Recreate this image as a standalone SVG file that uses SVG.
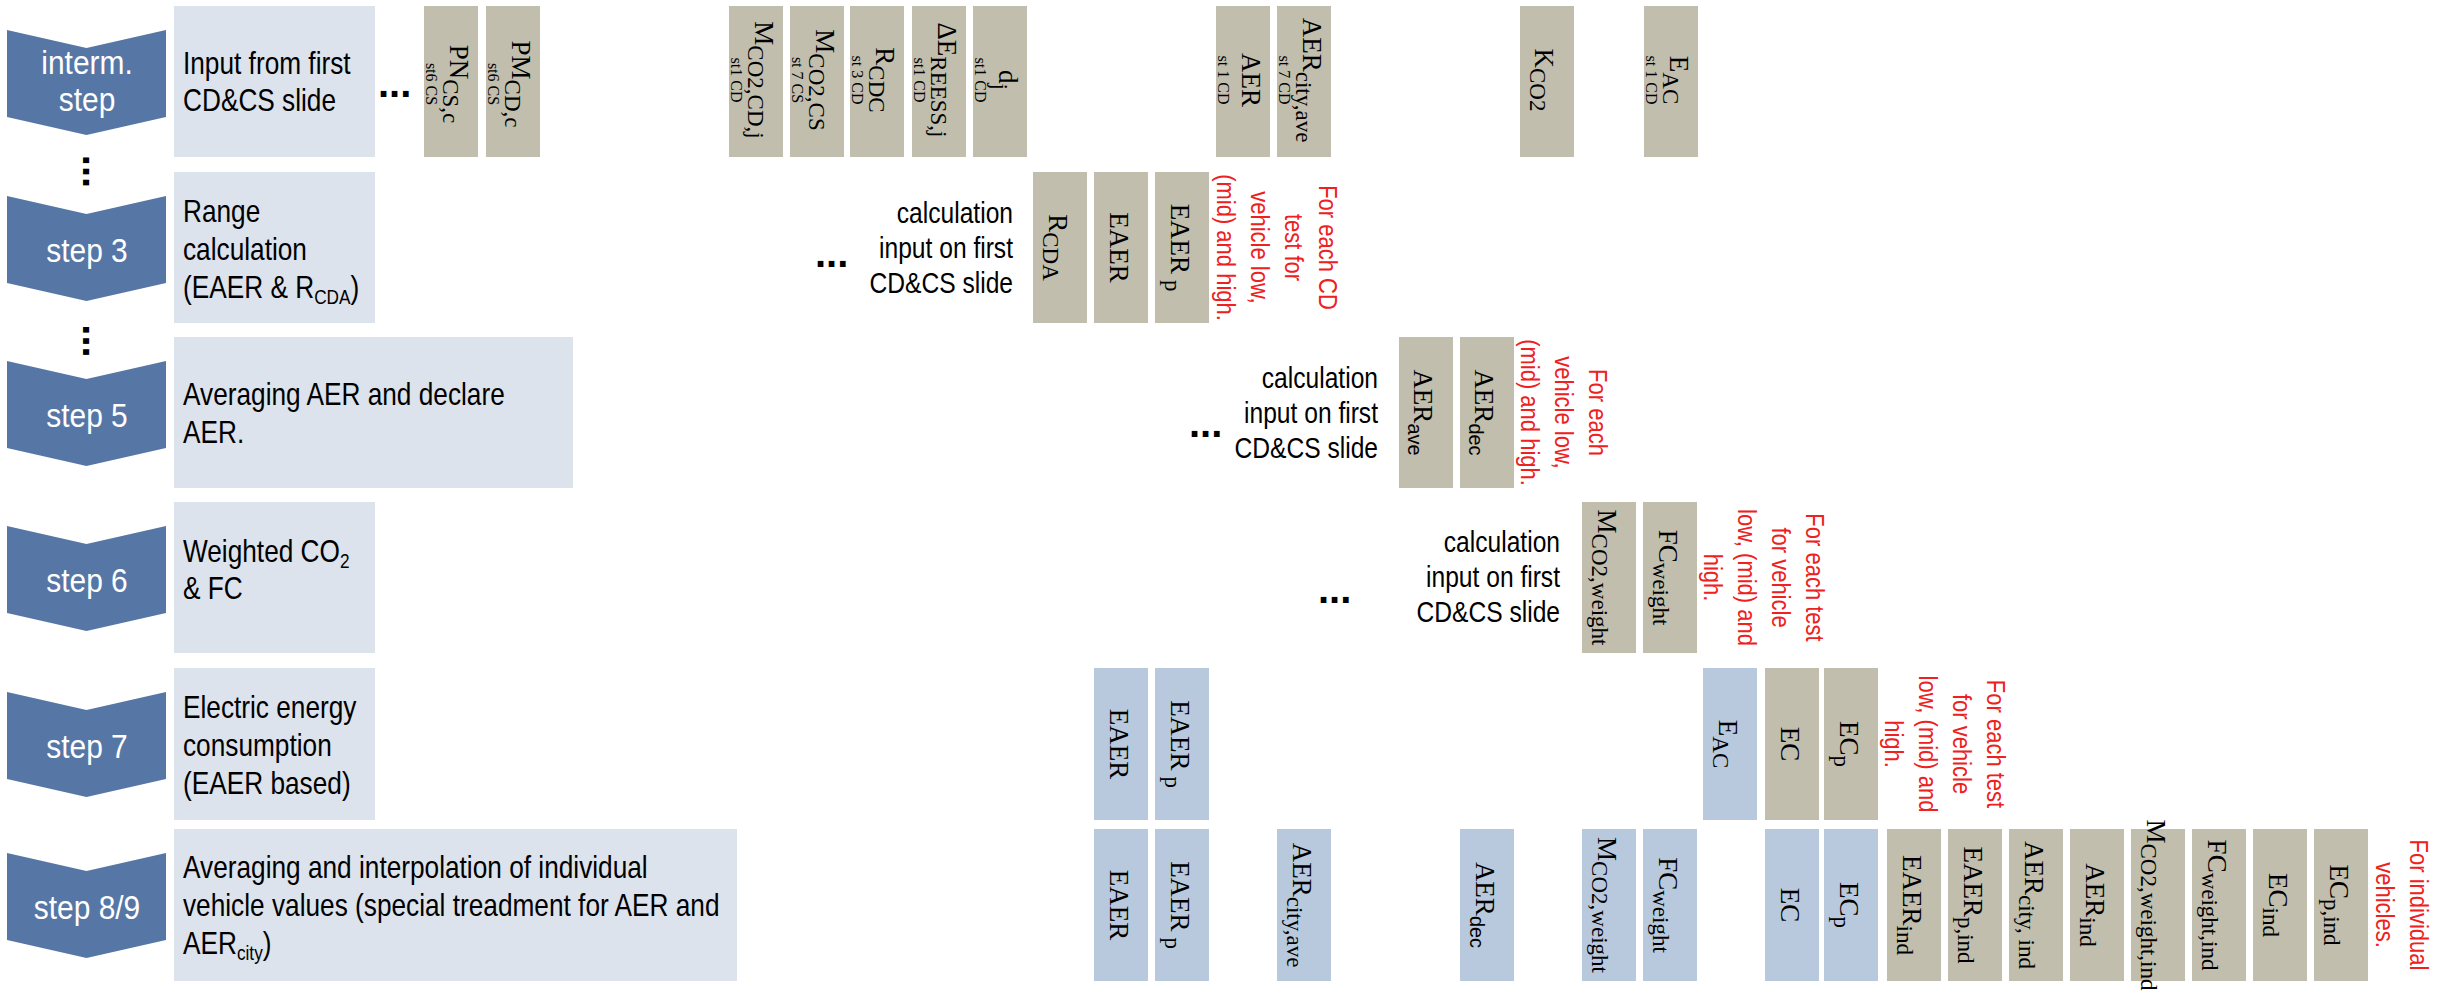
<svg xmlns="http://www.w3.org/2000/svg" xmlns:xlink="http://www.w3.org/1999/xlink" width="2443" height="992" viewBox="0 0 2443 992">
<style>
.chev{fill:#5677A6}
.lbox{fill:#DCE3ED}
.tan{fill:#C1BEAE}
.blu{fill:#B9C9DD}
.ct{font-family:'Liberation Sans',Arial,sans-serif;font-size:34px;fill:#fff;text-anchor:middle}
.lt{font-family:'Liberation Sans',Arial,sans-serif;font-size:32px;fill:#000}
.calc{font-family:'Liberation Sans',Arial,sans-serif;font-size:30px;fill:#000;text-anchor:end}
.dots{font-family:'Liberation Sans',Arial,sans-serif;font-size:40px;font-weight:bold;fill:#000}
.red{font-family:'Liberation Sans',Arial,sans-serif;font-size:26.5px;fill:#EE2020;text-anchor:middle}
.v{font-family:'Liberation Serif','Times New Roman',serif;font-size:27px;fill:#000;text-anchor:middle}
.sub{font-size:23px}
.sm{font-size:16px}
.ss{font-family:'Liberation Sans',Arial,sans-serif;font-size:20px}
.hs{font-size:21px}
</style>
<defs>
<path id="chevShape" d="M7,0 L86.5,18 L166,0 L166,87 L86.5,105 L7,87 Z"/>
</defs>

<!-- step column -->
<g id="step-interm"><use xlink:href="#chevShape" href="#chevShape" class="chev" y="30"/><text class="ct" transform="translate(87,0) scale(0.88,1)"><tspan x="0" y="74">interm.</tspan><tspan x="0" y="111">step</tspan></text></g>
<g id="step-3"><use xlink:href="#chevShape" href="#chevShape" class="chev" y="196"/><text class="ct" transform="translate(87,262) scale(0.88,1)">step 3</text></g>
<g id="step-5"><use xlink:href="#chevShape" href="#chevShape" class="chev" y="361"/><text class="ct" transform="translate(87,427) scale(0.88,1)">step 5</text></g>
<g id="step-6"><use xlink:href="#chevShape" href="#chevShape" class="chev" y="526"/><text class="ct" transform="translate(87,592) scale(0.88,1)">step 6</text></g>
<g id="step-7"><use xlink:href="#chevShape" href="#chevShape" class="chev" y="692"/><text class="ct" transform="translate(87,758) scale(0.88,1)">step 7</text></g>
<g id="step-8-9"><use xlink:href="#chevShape" href="#chevShape" class="chev" y="853"/><text class="ct" transform="translate(87,919) scale(0.88,1)">step 8/9</text></g>

<g id="vdots-1"><text class="dots" text-anchor="middle" transform="translate(83,171.5) rotate(90)">...</text></g>
<g id="vdots-2"><text class="dots" text-anchor="middle" transform="translate(83,341) rotate(90)">...</text></g>

<!-- description boxes -->
<g id="desc-interm"><rect class="lbox" x="174" y="6" width="201" height="151"/><text class="lt" transform="translate(183,74) scale(0.82,1)"><tspan x="0" y="0">Input from first</tspan><tspan x="0" y="37">CD&amp;CS slide</tspan></text></g>
<g id="desc-3"><rect class="lbox" x="174" y="172" width="201" height="151"/><text class="lt" transform="translate(183,222) scale(0.82,1)"><tspan x="0" y="0">Range</tspan><tspan x="0" y="38">calculation</tspan><tspan x="0" y="76">(EAER &amp; R<tspan class="hs" dy="6">CDA</tspan><tspan dy="-6">)</tspan></tspan></text></g>
<g id="desc-5"><rect class="lbox" x="174" y="337" width="399" height="151"/><text class="lt" transform="translate(183,405) scale(0.82,1)"><tspan x="0" y="0">Averaging AER and declare</tspan><tspan x="0" y="38">AER.</tspan></text></g>
<g id="desc-6"><rect class="lbox" x="174" y="502" width="201" height="151"/><text class="lt" transform="translate(183,562) scale(0.82,1)"><tspan x="0" y="0">Weighted CO<tspan class="hs" dy="6">2</tspan></tspan><tspan x="0" y="37">&amp; FC</tspan></text></g>
<g id="desc-7"><rect class="lbox" x="174" y="668" width="201" height="152"/><text class="lt" transform="translate(183,718) scale(0.82,1)"><tspan x="0" y="0">Electric energy</tspan><tspan x="0" y="38">consumption</tspan><tspan x="0" y="76">(EAER based)</tspan></text></g>
<g id="desc-8-9"><rect class="lbox" x="174" y="829" width="563" height="152"/><text class="lt" transform="translate(183,878) scale(0.82,1)"><tspan x="0" y="0">Averaging and interpolation of individual</tspan><tspan x="0" y="38">vehicle values (special treadment for AER and</tspan><tspan x="0" y="76">AER<tspan class="hs" dy="6">city</tspan><tspan dy="-6">)</tspan></tspan></text></g>

<!-- ellipses and calculation notes -->
<g id="dots-1"><text class="dots" x="378" y="97">...</text></g>
<g id="dots-3"><text class="dots" x="815" y="267">...</text></g>
<g id="dots-5"><text class="dots" x="1189" y="437">...</text></g>
<g id="dots-6"><text class="dots" x="1318" y="603">...</text></g>
<g id="calc-3"><text class="calc" transform="translate(1013,223) scale(0.82,1)"><tspan x="0" y="0">calculation</tspan><tspan x="0" y="35">input on first</tspan><tspan x="0" y="70">CD&amp;CS slide</tspan></text></g>
<g id="calc-5"><text class="calc" transform="translate(1378,388) scale(0.82,1)"><tspan x="0" y="0">calculation</tspan><tspan x="0" y="35">input on first</tspan><tspan x="0" y="70">CD&amp;CS slide</tspan></text></g>
<g id="calc-6"><text class="calc" transform="translate(1560,552) scale(0.82,1)"><tspan x="0" y="0">calculation</tspan><tspan x="0" y="35">input on first</tspan><tspan x="0" y="70">CD&amp;CS slide</tspan></text></g>

<!-- row 1 inputs -->
<g id="in-PN"><rect class="tan" x="424" y="6" width="54" height="151"/><text class="v" transform="translate(450,84) rotate(90)"><tspan x="0" y="0">PN<tspan class="sub" dy="7">CS,c</tspan></tspan><tspan class="sm" x="0" y="24">st6 CS</tspan></text></g>
<g id="in-PM"><rect class="tan" x="486" y="6" width="54" height="151"/><text class="v" transform="translate(512,84) rotate(90)"><tspan x="0" y="0">PM<tspan class="sub" dy="7">CD,c</tspan></tspan><tspan class="sm" x="0" y="24">st6 CS</tspan></text></g>
<g id="in-MCO2CDj"><rect class="tan" x="729" y="6" width="54" height="151"/><text class="v" transform="translate(755,80) rotate(90)"><tspan x="0" y="0">M<tspan class="sub" dy="7">CO2,CD,j</tspan></tspan><tspan class="sm" x="0" y="24">st1 CD</tspan></text></g>
<g id="in-MCO2CS"><rect class="tan" x="790" y="6" width="54" height="151"/><text class="v" transform="translate(816,80) rotate(90)"><tspan x="0" y="0">M<tspan class="sub" dy="7">CO2,CS</tspan></tspan><tspan class="sm" x="0" y="24">st 7 CS</tspan></text></g>
<g id="in-RCDC"><rect class="tan" x="850" y="6" width="54" height="151"/><text class="v" transform="translate(876,80) rotate(90)"><tspan x="0" y="0">R<tspan class="sub" dy="7">CDC</tspan></tspan><tspan class="sm" x="0" y="24">st 3 CD</tspan></text></g>
<g id="in-dEREESS"><rect class="tan" x="912" y="6" width="54" height="151"/><text class="v" transform="translate(938,80) rotate(90)"><tspan x="0" y="0">ΔE<tspan class="sub" dy="7">REESS,j</tspan></tspan><tspan class="sm" x="0" y="24">st1 CD</tspan></text></g>
<g id="in-dj"><rect class="tan" x="973" y="6" width="54" height="151"/><text class="v" transform="translate(999,80) rotate(90)"><tspan x="0" y="0">d<tspan class="sub" dy="7">j</tspan></tspan><tspan class="sm" x="0" y="24">st1 CD</tspan></text></g>
<g id="in-AER"><rect class="tan" x="1216" y="6" width="54" height="151"/><text class="v" transform="translate(1242,80) rotate(90)"><tspan x="0" y="0">AER</tspan><tspan class="sm" x="0" y="24">st 1 CD</tspan></text></g>
<g id="in-AERcity"><rect class="tan" x="1277" y="6" width="54" height="151"/><text class="v" transform="translate(1303,80) rotate(90)"><tspan x="0" y="0">AER<tspan class="sub" dy="7">city,ave</tspan></tspan><tspan class="sm" x="0" y="24">st 7 CD</tspan></text></g>
<g id="in-KCO2"><rect class="tan" x="1520" y="6" width="54" height="151"/><text class="v" transform="translate(1535,80) rotate(90)">K<tspan class="sub" dy="5">CO2</tspan></text></g>
<g id="in-EAC"><rect class="tan" x="1644" y="6" width="54" height="151"/><text class="v" transform="translate(1670,80) rotate(90)"><tspan x="0" y="0">E<tspan class="sub" dy="7">AC</tspan></tspan><tspan class="sm" x="0" y="24">st 1 CD</tspan></text></g>

<!-- row step 3 -->
<g id="s3-RCDA"><rect class="tan" x="1033" y="172" width="54" height="151"/><text class="v" transform="translate(1049,247.5) rotate(90)">R<tspan class="sub" dy="6">CDA</tspan></text></g>
<g id="s3-EAER"><rect class="tan" x="1094" y="172" width="54" height="151"/><text class="v" transform="translate(1110,247.5) rotate(90)">EAER</text></g>
<g id="s3-EAERp"><rect class="tan" x="1155" y="172" width="54" height="151"/><text class="v" transform="translate(1171,247.5) rotate(90)">EAER<tspan class="sub" dy="6"> p</tspan></text></g>
<g id="s3-note"><text class="red" transform="translate(1319,247.5) rotate(90) scale(0.83,1)"><tspan x="0" y="0">For each CD</tspan><tspan x="0" y="34">test for</tspan><tspan x="0" y="68">vehicle low,</tspan><tspan x="0" y="102">(mid) and high.</tspan></text></g>

<!-- row step 5 -->
<g id="s5-AERave"><rect class="tan" x="1399" y="337" width="54" height="151"/><text class="v" transform="translate(1414,412.5) rotate(90)">AER<tspan class="ss" dy="6">ave</tspan></text></g>
<g id="s5-AERdec"><rect class="tan" x="1460" y="337" width="54" height="151"/><text class="v" transform="translate(1475,412.5) rotate(90)">AER<tspan class="ss" dy="6">dec</tspan></text></g>
<g id="s5-note"><text class="red" transform="translate(1589,412.5) rotate(90) scale(0.83,1)"><tspan x="0" y="0">For each</tspan><tspan x="0" y="34">vehicle low,</tspan><tspan x="0" y="68">(mid) and high.</tspan></text></g>

<!-- row step 6 -->
<g id="s6-MCO2w"><rect class="tan" x="1582" y="502" width="54" height="151"/><text class="v" transform="translate(1598,577.5) rotate(90)">M<tspan class="sub" dy="6">CO2,weight</tspan></text></g>
<g id="s6-FCw"><rect class="tan" x="1643" y="502" width="54" height="151"/><text class="v" transform="translate(1659,577.5) rotate(90)">FC<tspan class="sub" dy="6">weight</tspan></text></g>
<g id="s6-note"><text class="red" transform="translate(1806,577.5) rotate(90) scale(0.83,1)"><tspan x="0" y="0">For each test</tspan><tspan x="0" y="34">for vehicle</tspan><tspan x="0" y="68">low, (mid) and</tspan><tspan x="0" y="102">high.</tspan></text></g>

<!-- row step 7 -->
<g id="s7-EAER"><rect class="blu" x="1094" y="668" width="54" height="152"/><text class="v" transform="translate(1110,744) rotate(90)">EAER</text></g>
<g id="s7-EAERp"><rect class="blu" x="1155" y="668" width="54" height="152"/><text class="v" transform="translate(1171,744) rotate(90)">EAER<tspan class="sub" dy="6"> p</tspan></text></g>
<g id="s7-EAC"><rect class="blu" x="1703" y="668" width="54" height="152"/><text class="v" transform="translate(1719,744) rotate(90)">E<tspan class="sub" dy="6">AC</tspan></text></g>
<g id="s7-EC"><rect class="tan" x="1765" y="668" width="54" height="152"/><text class="v" transform="translate(1781,744) rotate(90)">EC</text></g>
<g id="s7-ECp"><rect class="tan" x="1824" y="668" width="54" height="152"/><text class="v" transform="translate(1840,744) rotate(90)">EC<tspan class="sub" dy="6">p</tspan></text></g>
<g id="s7-note"><text class="red" transform="translate(1987,744) rotate(90) scale(0.83,1)"><tspan x="0" y="0">For each test</tspan><tspan x="0" y="34">for vehicle</tspan><tspan x="0" y="68">low, (mid) and</tspan><tspan x="0" y="102">high.</tspan></text></g>

<!-- row step 8/9 -->
<g id="s89-EAER"><rect class="blu" x="1094" y="829" width="54" height="152"/><text class="v" transform="translate(1110,905) rotate(90)">EAER</text></g>
<g id="s89-EAERp"><rect class="blu" x="1155" y="829" width="54" height="152"/><text class="v" transform="translate(1171,905) rotate(90)">EAER<tspan class="sub" dy="6"> p</tspan></text></g>
<g id="s89-AERcity"><rect class="blu" x="1277" y="829" width="54" height="152"/><text class="v" transform="translate(1293,905) rotate(90)">AER<tspan class="sub" dy="6">city,ave</tspan></text></g>
<g id="s89-AERdec"><rect class="blu" x="1460" y="829" width="54" height="152"/><text class="v" transform="translate(1476,905) rotate(90)">AER<tspan class="ss" dy="6">dec</tspan></text></g>
<g id="s89-MCO2w"><rect class="blu" x="1582" y="829" width="54" height="152"/><text class="v" transform="translate(1598,905) rotate(90)">M<tspan class="sub" dy="6">CO2,weight</tspan></text></g>
<g id="s89-FCw"><rect class="blu" x="1643" y="829" width="54" height="152"/><text class="v" transform="translate(1659,905) rotate(90)">FC<tspan class="sub" dy="6">weight</tspan></text></g>
<g id="s89-EC"><rect class="blu" x="1765" y="829" width="54" height="152"/><text class="v" transform="translate(1781,905) rotate(90)">EC</text></g>
<g id="s89-ECp"><rect class="blu" x="1824" y="829" width="54" height="152"/><text class="v" transform="translate(1840,905) rotate(90)">EC<tspan class="sub" dy="6">p</tspan></text></g>
<g id="s89-EAERind"><rect class="tan" x="1887" y="829" width="54" height="152"/><text class="v" transform="translate(1903,905) rotate(90)">EAER<tspan class="sub" dy="6">ind</tspan></text></g>
<g id="s89-EAERpind"><rect class="tan" x="1948" y="829" width="54" height="152"/><text class="v" transform="translate(1964,905) rotate(90)">EAER<tspan class="sub" dy="6">p,ind</tspan></text></g>
<g id="s89-AERcityind"><rect class="tan" x="2009" y="829" width="54" height="152"/><text class="v" transform="translate(2025,905) rotate(90)">AER<tspan class="sub" dy="6">city, ind</tspan></text></g>
<g id="s89-AERind"><rect class="tan" x="2070" y="829" width="54" height="152"/><text class="v" transform="translate(2086,905) rotate(90)">AER<tspan class="sub" dy="6">ind</tspan></text></g>
<g id="s89-MCO2wind"><rect class="tan" x="2131" y="829" width="54" height="152"/><text class="v" transform="translate(2147,905) rotate(90)">M<tspan class="sub" dy="6">CO2,weight,ind</tspan></text></g>
<g id="s89-FCwind"><rect class="tan" x="2192" y="829" width="54" height="152"/><text class="v" transform="translate(2208,905) rotate(90)">FC<tspan class="sub" dy="6">weight,ind</tspan></text></g>
<g id="s89-ECind"><rect class="tan" x="2253" y="829" width="54" height="152"/><text class="v" transform="translate(2269,905) rotate(90)">EC<tspan class="sub" dy="6">ind</tspan></text></g>
<g id="s89-ECpind"><rect class="tan" x="2314" y="829" width="54" height="152"/><text class="v" transform="translate(2330,905) rotate(90)">EC<tspan class="sub" dy="6">p,ind</tspan></text></g>
<g id="s89-note"><text class="red" transform="translate(2410,905) rotate(90) scale(0.83,1)"><tspan x="0" y="0">For individual</tspan><tspan x="0" y="34">vehicles.</tspan></text></g>

<g id="connectors"></g>
</svg>
